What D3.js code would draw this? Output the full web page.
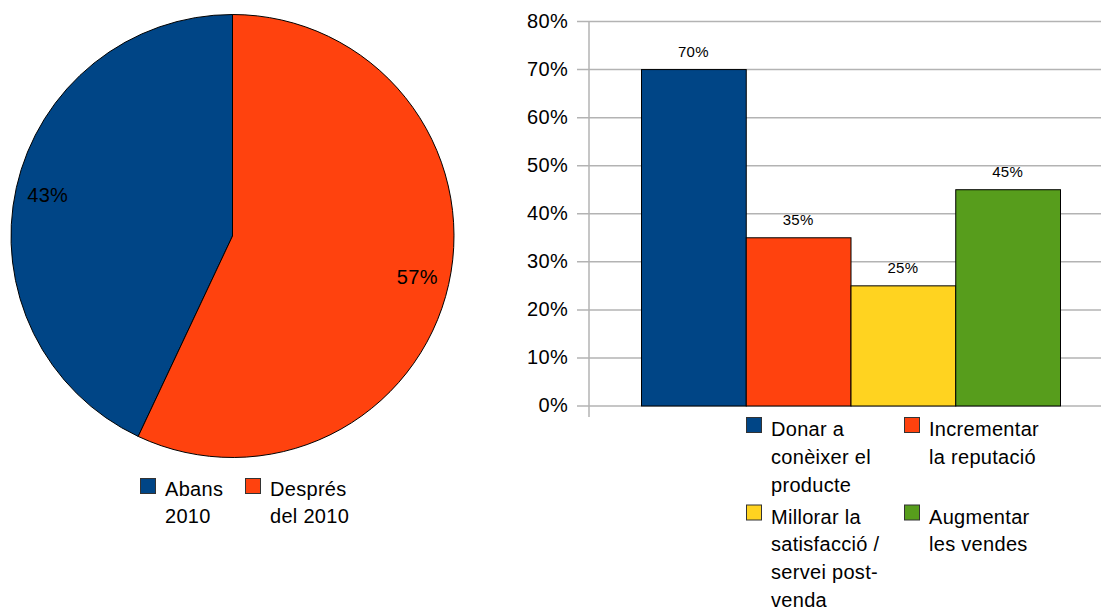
<!DOCTYPE html>
<html>
<head>
<meta charset="utf-8">
<script src="https://cdn.jsdelivr.net/npm/d3@7"></script>
<style>
  html, body { margin: 0; padding: 0; background: #fff; }
  svg { display: block; font-family: "Liberation Sans", Arial, sans-serif; }
</style>
</head>
<body>
<svg id="chart" width="1101" height="607"></svg>
<script>
// Pie: periods
const pieLabels = ["Abans 2010", "Després del 2010"];
const pieLegendLines = [["Abans", "2010"], ["Després", "del 2010"]];
const pieValues = [43, 57];
const pieColors = ["#004586", "#ff420e"];

// Bars: objectives
const barSeries = ["Donar a conèixer el producte", "Incrementar la reputació",
                   "Millorar la satisfacció / servei post-venda", "Augmentar les vendes"];
const barLegendLines = [["Donar a", "conèixer el", "producte"],
                        ["Incrementar", "la reputació"],
                        ["Millorar la", "satisfacció /", "servei post-", "venda"],
                        ["Augmentar", "les vendes"]];
const barValues = [0.70, 0.35, 0.25, 0.45];
const barColors = ["#004586", "#ff420e", "#ffd320", "#579d1c"];
const yTicks = [0, 0.1, 0.2, 0.3, 0.4, 0.5, 0.6, 0.7, 0.8];

const svg = d3.select("#chart");
const pct = d3.format(".0%");
const textStyle = s => s.attr("fill", "#000").style("letter-spacing", "0.3px");

// ---------- Pie ----------
const cx = 232.5, cy = 236, r = 221.5;
const total = d3.sum(pieValues);
const pie = d3.pie().sort(null).value(d => d)
  .startAngle(-2 * Math.PI * pieValues[0] / total)
  .endAngle(2 * Math.PI - 2 * Math.PI * pieValues[0] / total);
const arcs = pie(pieValues);
const arc = d3.arc().innerRadius(0).outerRadius(r);
const labelArc = d3.arc().innerRadius(r * 0.855).outerRadius(r * 0.855);

const pg = svg.append("g").attr("transform", `translate(${cx},${cy})`);
pg.selectAll("path").data(arcs).join("path")
  .attr("d", arc)
  .attr("fill", (d, i) => pieColors[i])
  .attr("stroke", "#000").attr("stroke-width", 1).attr("stroke-linejoin", "round");

pg.selectAll("text").data(arcs).join("text")
  .attr("transform", d => { const c = labelArc.centroid(d); return `translate(${c[0]},${c[1]})`; })
  .attr("text-anchor", "middle").attr("dy", "0.35em")
  .style("font-size", "20px")
  .call(textStyle)
  .text(d => pct(d.data / total));

// pie legend
const pieLegX = [140, 245];
const pl = svg.append("g");
pieLabels.forEach((name, i) => {
  const g = pl.append("g").attr("transform", `translate(${pieLegX[i]},478)`);
  g.append("rect").attr("x", 0.5).attr("y", 0.5).attr("width", 15).attr("height", 15)
    .attr("fill", pieColors[i]).attr("stroke", "#333").attr("stroke-width", 1);
  const t = g.append("text").style("font-size", "20px").call(textStyle);
  pieLegendLines[i].forEach((ln, j) => t.append("tspan").attr("x", 25).attr("y", 18 + j * 27).text(ln));
});

// ---------- Bars ----------
const y = d3.scaleLinear().domain([0, 0.8]).range([405.5, 21]);
const x = d3.scaleBand().domain(barSeries).range([641, 1060]).padding(0);

const axisG = svg.append("g").attr("transform", "translate(577,0)")
  .call(d3.axisLeft(y).tickValues(yTicks).tickFormat(pct)
        .tickSize(-(1101 - 577)).tickPadding(9));
axisG.select(".domain").remove();
axisG.selectAll(".tick line").attr("stroke", "#b3b3b3").attr("stroke-width", 1.5);
axisG.selectAll(".tick text").style("font-size", "20px").style("font-family", "Liberation Sans, Arial, sans-serif")
  .call(textStyle);

svg.append("line").attr("x1", 589).attr("x2", 589).attr("y1", 21).attr("y2", 417)
  .attr("stroke", "#b3b3b3").attr("stroke-width", 1.5);

svg.append("g").selectAll("rect").data(barValues).join("rect")
  .attr("x", (d, i) => x(barSeries[i]) + 0.5)
  .attr("y", d => y(d) + 0.5)
  .attr("width", x.bandwidth())
  .attr("height", d => y(0) - y(d))
  .attr("fill", (d, i) => barColors[i])
  .attr("stroke", "#000").attr("stroke-width", 1);

svg.append("g").selectAll("text").data(barValues).join("text")
  .attr("x", (d, i) => x(barSeries[i]) + x.bandwidth() / 2)
  .attr("y", d => y(d) - 12)
  .attr("text-anchor", "middle")
  .style("font-size", "15px")
  .call(textStyle)
  .text(d => pct(d));

// bar legend (2 x 2)
const legX = [746, 904], legY = [417, 504.5];
barSeries.forEach((name, i) => {
  const col = i % 2, row = Math.floor(i / 2);
  const g = svg.append("g").attr("transform", `translate(${legX[col]},${legY[row]})`);
  g.append("rect").attr("x", 0.5).attr("y", 0.5).attr("width", 15).attr("height", 15)
    .attr("fill", barColors[i]).attr("stroke", "#333").attr("stroke-width", 1);
  const t = g.append("text").style("font-size", "20px").call(textStyle);
  barLegendLines[i].forEach((ln, j) => t.append("tspan").attr("x", 25).attr("y", 19 + j * 27.8).text(ln));
});
</script>
</body>
</html>
